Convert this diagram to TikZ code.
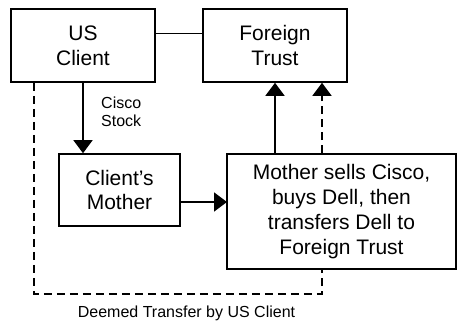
\documentclass[tikz,border=0pt]{standalone}
\usepackage{fontspec}
\setmainfont{Liberation Sans}
\usetikzlibrary{arrows.meta}
\begin{document}
\begin{tikzpicture}[x=1pt,y=-1pt,
  box/.style={draw,line width=1.6pt,align=center,inner sep=0pt,
    font=\fontsize{21}{24.8}\selectfont},
  lbl/.style={inner sep=0pt,font=\fontsize{16}{18}\selectfont},
  conn/.style={line width=1.6pt},
  arr/.style={conn,-{Triangle[width=19pt,length=13pt]}},
  dsh/.style={line width=1.6pt,dash pattern=on 8pt off 5pt}]
\useasboundingbox (0,0) rectangle (458,322);
\node[box,minimum width=144pt,minimum height=73pt] (usc) at (83,45.5) {US\\Client};
\node[box,minimum width=144pt,minimum height=73pt] (ft) at (275,45.5) {Foreign\\Trust};
\node[box,minimum width=121pt,minimum height=72pt] (mom) at (119.5,190) {Client’s\\Mother};
\node[box,minimum width=229pt,minimum height=115pt] (big) at (341.5,211.5) {Mother sells Cisco,\\buys Dell, then\\transfers Dell to\\Foreign Trust};
\node[lbl,anchor=west,align=left] (cs) at (101,112) {Cisco\\Stock};
\node[lbl] (dt) at (186.5,313) {Deemed Transfer by US Client};
\coordinate (ty) at (0,33.5);
\coordinate (mm) at (180,202);
\coordinate (bm) at (227,202);
\coordinate (dx) at (322,0);
\coordinate (lx) at (34,0);
\coordinate (by) at (0,294);
\draw[conn] (usc.east |- ty) -- (ft.west |- ty);
\draw[arr] (usc.south) -- (mom.north -| usc.south);
\draw[arr] (mm) -- (bm);
\draw[arr] (big.north -| ft.south) -- (ft.south);
\draw[dsh,-{Triangle[width=19pt,length=13pt]}] (big.north -| dx) -- (ft.south -| dx);
\draw[dsh] (usc.south -| lx) -- (by -| lx) -- (by -| dx) -- (big.south -| dx);
\end{tikzpicture}
\end{document}
